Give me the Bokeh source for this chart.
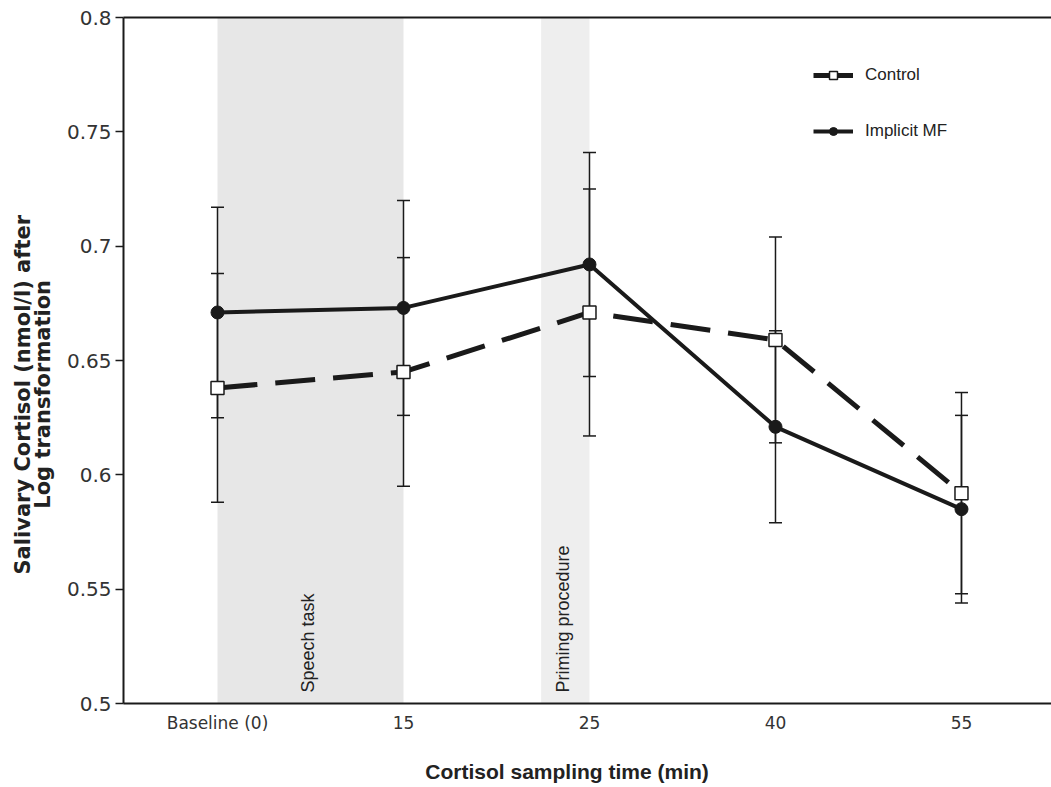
import numpy as np
from bokeh.plotting import figure
from bokeh.models import Range1d, LinearAxis, FixedTicker, Legend, LegendItem, Title
from bokeh.core.properties import value
from bokeh.embed import file_html
from bokeh.resources import INLINE

# ---- data ----
times = ["Baseline (0)", "15", "25", "40", "55"]
control_mean = [0.638, 0.645, 0.671, 0.659, 0.592]
control_err = [0.050, 0.050, 0.054, 0.045, 0.044]
mf_mean = [0.671, 0.673, 0.692, 0.621, 0.585]
mf_err = [0.046, 0.047, 0.049, 0.042, 0.041]

phase_labels = ["Speech task", "Priming procedure"]
phase_start = [0.0, 1.74]
phase_end = [1.0, 2.0]

y_ticks = [0.5, 0.55, 0.6, 0.65, 0.7, 0.75, 0.8]
y_tick_labels = ["0.5", "0.55", "0.6", "0.65", "0.7", "0.75", "0.8"]

x_title = "Cortisol sampling time (min)"
y_title_lines = ["Salivary Cortisol (nmol/l) after", "Log transformation"]

xs = list(range(len(times)))
c_lo = [m - e for m, e in zip(control_mean, control_err)]
c_hi = [m + e for m, e in zip(control_mean, control_err)]
m_lo = [m - e for m, e in zip(mf_mean, mf_err)]
m_hi = [m + e for m, e in zip(mf_mean, mf_err)]

INK = "#1a1a1a"

p = figure(width=1051, height=787,
           x_range=Range1d(-0.5054, 4.484), y_range=Range1d(0.5, 0.8),
           output_backend="svg", toolbar_location=None,
           min_border_left=123, min_border_right=0,
           min_border_top=17, min_border_bottom=84)
p.xgrid.visible = False
p.ygrid.visible = False
p.outline_line_color = None
p.background_fill_color = "white"

# shaded phases
p.quad(left=phase_start, right=phase_end, bottom=0.5, top=0.8,
       fill_color=["#e7e7e7", "#eeeeee"], line_color=None)
p.text(x=[0.484, 1.855], y=[0.5, 0.5], text=phase_labels,
       angle=np.pi / 2, text_align="left", text_baseline="middle",
       y_offset=-11, text_font=value("Liberation Sans"),
       text_font_size="18px", text_color="#222222")

# error bars
p.segment(x0=xs + xs, y0=c_lo + m_lo, x1=xs + xs, y1=c_hi + m_hi,
          line_color=INK, line_width=1.5)
p.scatter(x=xs * 4, y=c_lo + c_hi + m_lo + m_hi, marker="dash", size=13,
          line_color=INK, line_width=1.5)

# series lines
cl = p.line(xs, control_mean, line_dash="40 18", line_width=5, line_color=INK)
ml = p.line(xs, mf_mean, line_width=4, line_color=INK)

sq = p.scatter(xs, control_mean, marker="square", size=13,
               fill_color="white", line_color=INK, line_width=1.5)
ci = p.scatter(xs, mf_mean, marker="circle", size=13,
               fill_color=INK, line_color=INK, line_width=1)

legend = Legend(items=[LegendItem(label="Control", renderers=[cl, sq]),
                       LegendItem(label="Implicit MF", renderers=[ml, ci])],
                location=(690, 562), border_line_color=None,
                background_fill_alpha=0, padding=0, margin=0, spacing=36,
                glyph_width=40, glyph_height=20, label_height=20,
                label_standoff=12, label_text_font="Liberation Sans",
                label_text_font_size="17px", label_text_color="#222222")
p.add_layout(legend)

# x axis
xa = p.xaxis[0]
xa.ticker = FixedTicker(ticks=xs)
xa.major_label_overrides = {i: t for i, t in zip(xs, times)}
xa.major_tick_out = 0
xa.major_tick_in = 0
xa.minor_tick_out = 0
xa.minor_tick_in = 0
xa.axis_line_width = 2
xa.axis_line_color = INK
xa.major_label_text_font = "DejaVu Sans"
xa.major_label_text_font_size = "17px"
xa.major_label_text_color = "#333333"
xa.major_label_standoff = 9
# trailing non-breaking spaces move the centred title slightly left
xa.axis_label = x_title + "\u00a0" * 7
xa.axis_label_text_font = "Liberation Sans"
xa.axis_label_text_font_style = "bold"
xa.axis_label_text_font_size = "21px"
xa.axis_label_text_color = "#222222"
xa.axis_label_standoff = 24

# y axis
ya = p.yaxis[0]
ya.ticker = FixedTicker(ticks=y_ticks)
ya.major_label_overrides = {t: s for t, s in zip(y_ticks, y_tick_labels)}
ya.major_tick_out = 8
ya.major_tick_in = 0
ya.minor_tick_out = 0
ya.minor_tick_in = 0
ya.major_tick_line_width = 1.5
ya.major_tick_line_color = INK
ya.axis_line_width = 2
ya.axis_line_color = INK
ya.major_label_text_font = "DejaVu Sans"
ya.major_label_text_font_size = "20px"
ya.major_label_text_color = "#333333"
ya.major_label_standoff = 4

# y title as a left side-panel title; second line centred by an nbsp indent
y_title = y_title_lines[0] + "\n" + "\u00a0" * 9 + y_title_lines[1]
p.add_layout(Title(text=y_title, align="left", offset=129, standoff=16,
                   text_line_height=0.85,
                   text_font="DejaVu Sans", text_font_style="bold",
                   text_font_size="21px", text_color="#222222"), "left")

# top frame line
top = LinearAxis(ticker=FixedTicker(ticks=[]), major_tick_out=0, major_tick_in=0,
                 minor_tick_out=0, minor_tick_in=0, major_label_standoff=0,
                 axis_line_width=2, axis_line_color=INK)
p.add_layout(top, "above")

open("out.html", "w").write(file_html(p, INLINE))
